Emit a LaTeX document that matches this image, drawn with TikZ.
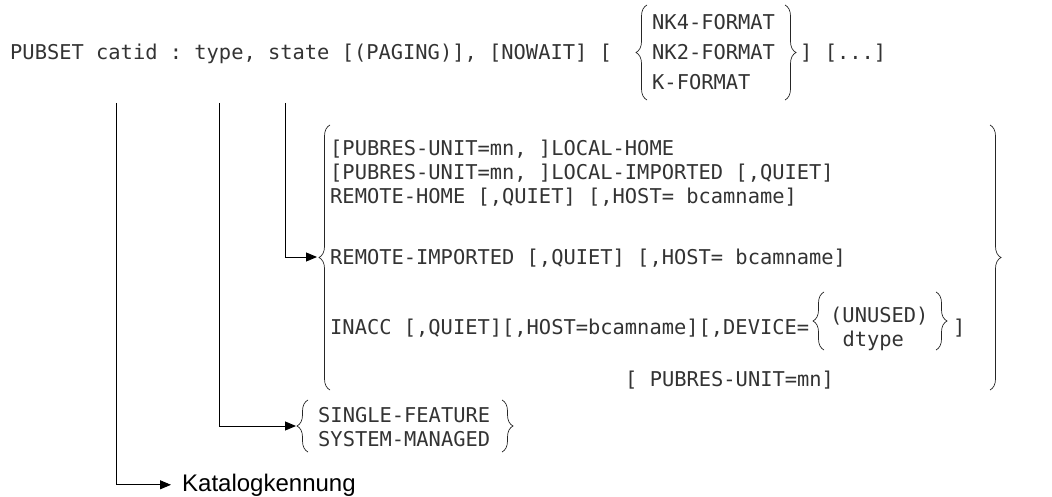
\documentclass[tikz,border=0pt]{standalone}
\usepackage{fontspec}
\setmonofont{DejaVu Sans Mono}
\newfontfamily\labelfont{Liberation Sans}
\usetikzlibrary{arrows.meta, positioning, decorations.pathreplacing}

\begin{document}
\begin{tikzpicture}[
  x=1pt, y=-1pt,
  code/.style   ={font=\ttfamily\fontsize{20.4}{24}\selectfont, text=black!80, inner sep=0pt, anchor=base west},
  curly/.style  ={decorate, decoration={brace, amplitude=11pt}, line width=0.7pt, black!85},
  ptr/.style    ={-{Triangle[length=11pt,width=9pt]}, line width=0.9pt},
]
\useasboundingbox (0,0) rectangle (1052,497);

% command line with format alternatives
\node[code] (cmd) at (10,60) {PUBSET catid : type, state [(PAGING)], [NOWAIT] [};
\node[code] (nkfour) at (652,30) {NK4-FORMAT};
\node[code] (nktwo)  at (652,60) {NK2-FORMAT};
\node[code] (kfmt)   at (652,90) {K-FORMAT};
\node[code] (tail)   at (800,60) {] [...]};

\draw[curly] (647,100) -- (647,5);
\draw[curly] (785,5) -- (785,100);

% state values
\node[code] (lhome)  at (330,156) {[PUBRES-UNIT=mn, ]LOCAL-HOME};
\node[code] (limp)   at (330,180) {[PUBRES-UNIT=mn, ]LOCAL-IMPORTED [,QUIET]};
\node[code] (rhome)  at (330,204) {REMOTE-HOME [,QUIET] [,HOST= bcamname]};
\node[code] (rimp)   at (330,265) {REMOTE-IMPORTED [,QUIET] [,HOST= bcamname]};
\node[code] (inacc)  at (330,334) {INACC [,QUIET][,HOST=bcamname][,DEVICE=};
\node[code] (unused) at (830,322) {(UNUSED)};
\node[code] (dtype)  at (842.3,346) {dtype};
\node[code] (devend) at (953,334) {]};
\node[code] (pubres) at (625,386) {[ PUBRES-UNIT=mn]};

\draw[curly] (330,390) -- (330,125);
\draw[curly] (990,125) -- (990,390);
\draw[curly] (824,350) -- (824,292);
\draw[curly] (936,292) -- (936,350);

% type values
\node[code] (single) at (318,422) {SINGLE-FEATURE};
\node[code] (system) at (318,446) {SYSTEM-MANAGED};

\draw[curly] (308,452) -- (308,400);
\draw[curly] (502,400) -- (502,452);

\node[font=\labelfont\fontsize{24}{28}\selectfont, inner sep=0pt, anchor=base west] (katalog) at (182,491) {Katalogkennung};

% pointers from the operands
\coordinate (catidfoot) at (116,103);
\coordinate (typefoot)  at (219,103);
\coordinate (statefoot) at (285,103);
\coordinate (statetip)  at (317,257);
\coordinate (typetip)   at (296,426);

\draw[ptr] (statefoot) |- (statetip);
\draw[ptr] (typefoot) |- (typetip);
\draw[ptr, shorten >=11pt] (catidfoot) |- (katalog.west);

\end{tikzpicture}
\end{document}
